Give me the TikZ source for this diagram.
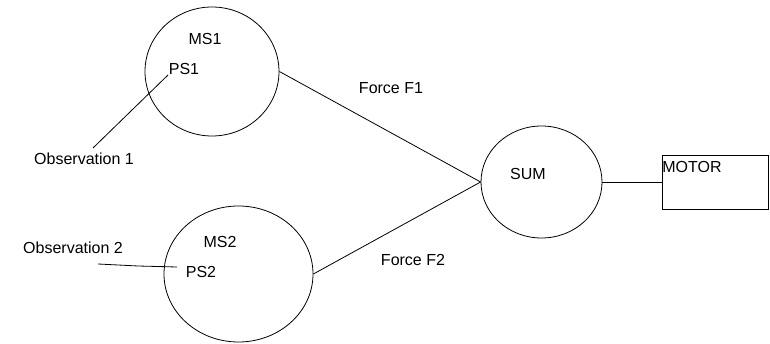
\documentclass[tikz,border=0pt]{standalone}
\usepackage{fontspec}
\setmainfont{Liberation Sans}
\usetikzlibrary{shapes.geometric}
\begin{document}
\begin{tikzpicture}[x=1pt,y=-1pt,
  line width=0.8pt,
  blob/.style={draw, ellipse, inner sep=0pt},
  lbl/.style={inner sep=0pt, font=\fontsize{16}{19}\selectfont},
  wire/.style={draw}]
\useasboundingbox (0,0) rectangle (770,344);
\node[blob, minimum width=134pt, minimum height=129pt] (ms1) at (212,71.5) {};
\node[blob, minimum width=149pt, minimum height=136pt] (ms2) at (238.5,274) {};
\node[blob, minimum width=121pt, minimum height=112pt] (sum) at (541.5,182) {};
\node[draw, minimum width=106pt, minimum height=54pt, inner sep=0pt] (motor) at (715,182) {};
\node[lbl] (tms1) at (205,39) {MS1};
\node[lbl] (tps1) at (184,69) {PS1};
\node[lbl] (tms2) at (220,242) {MS2};
\node[lbl] (tps2) at (201,272) {PS2};
\node[lbl] (tsum) at (528,174) {SUM};
\node[lbl, anchor=west] (tmotor) at (662,167) {MOTOR};
\node[lbl] (obs1) at (84,159) {Observation 1};
\node[lbl] (obs2) at (73,248) {Observation 2};
\node[lbl] (f1) at (391,88) {Force F1};
\node[lbl] (f2) at (413,260) {Force F2};
\coordinate (o1a) at (93,148);
\coordinate (o1b) at (168,75);
\coordinate (o2a) at (98,264);
\coordinate (o2m) at (138,266);
\coordinate (o2b) at (177,267);
\draw (o1a) -- (o1b);
\draw (o2a) -- (o2m) -- (o2b);
\draw (ms1.east) -- (sum.west);
\draw (ms2.east) -- (sum.west);
\draw (sum.east) -- (motor.west);
\end{tikzpicture}
\end{document}
